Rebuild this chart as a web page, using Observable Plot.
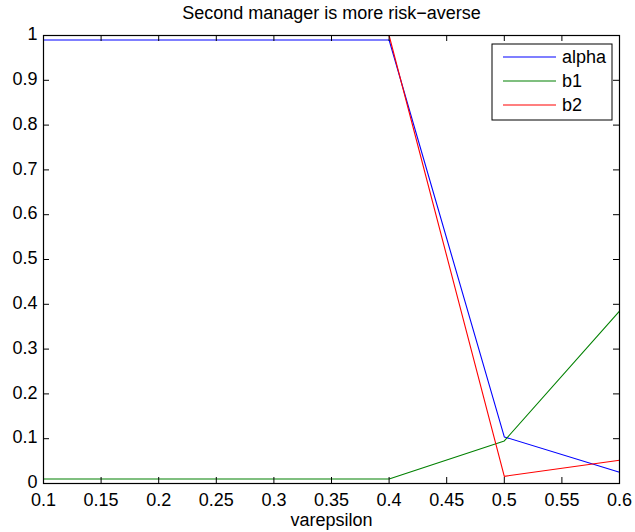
<!DOCTYPE html>
<html>
<head>
<meta charset="utf-8">
<script src="https://cdn.jsdelivr.net/npm/d3@7"></script>
<script src="https://cdn.jsdelivr.net/npm/@observablehq/plot@0.6"></script>
<style>
  body { margin: 0; background: #fff; }
  #chart { position: relative; width: 635px; height: 532px; }
  svg { display: block; }
</style>
</head>
<body>
<div id="chart"></div>
<script>
const title = "Second manager is more risk\u2212averse";
const xLabel = "varepsilon";
const eps = [0.1, 0.2, 0.3, 0.4, 0.5, 0.6];
const alpha = [0.99, 0.99, 0.99, 0.99, 0.104, 0.025];
const b1 = [0.01, 0.01, 0.01, 0.01, 0.095, 0.385];
const b2 = [1, 1, 1, 1, 0.016, 0.052];
const seriesNames = ["alpha", "b1", "b2"];
const seriesColors = ["#0000ff", "#008000", "#ff0000"];
const xTicks = [0.1, 0.15, 0.2, 0.25, 0.3, 0.35, 0.4, 0.45, 0.5, 0.55, 0.6];
const yTicks = [0, 0.1, 0.2, 0.3, 0.4, 0.5, 0.6, 0.7, 0.8, 0.9, 1];

const W = 635, H = 532;
const mL = 43, mR = 16, mT = 35, mB = 49;
const plotW = W - mL - mR, plotH = H - mT - mB;
const tickLen = 6;
const font = "'Liberation Sans', Arial, Helvetica, sans-serif";
const fs = 18;
const fmt = d => String(+d.toFixed(2));

const values = [alpha, b1, b2];
const rows = seriesNames.flatMap((s, k) => eps.map((x, i) => ({x, y: values[k][i], s})));

const plot = Plot.plot({
  width: W,
  height: H,
  marginLeft: mL,
  marginRight: mR,
  marginTop: mT,
  marginBottom: mB,
  style: {fontFamily: font, fontSize: fs + "px", color: "black", background: "white"},
  x: {domain: [0.1, 0.6]},
  y: {domain: [0, 1]},
  color: {domain: seriesNames, range: seriesColors},
  marks: [
    Plot.line(rows, {x: "x", y: "y", z: "s", stroke: "s", strokeWidth: 1.1}),
    Plot.ruleX(xTicks, {x: d => d, insetTop: plotH - tickLen, stroke: "black"}),
    Plot.ruleX(xTicks, {x: d => d, insetBottom: plotH - tickLen, stroke: "black"}),
    Plot.ruleY(yTicks, {y: d => d, insetRight: plotW - tickLen, stroke: "black"}),
    Plot.ruleY(yTicks, {y: d => d, insetLeft: plotW - tickLen, stroke: "black"}),
    Plot.frame({stroke: "black", strokeWidth: 1.2}),
    Plot.axisX({ticks: xTicks, tickFormat: fmt, tickSize: 0, tickPadding: 10, label: null, fontSize: fs}),
    Plot.axisY({ticks: yTicks, tickFormat: fmt, tickSize: 0, tickPadding: 6, dy: -1, label: null, fontSize: fs}),
    Plot.text([title], {text: d => d, frameAnchor: "top", lineAnchor: "middle", dy: -22, fontSize: fs}),
    Plot.text([xLabel], {text: d => d, frameAnchor: "bottom", lineAnchor: "middle", dy: 37, fontSize: fs})
  ]
});

document.getElementById("chart").appendChild(plot);

// Legend (MATLAB-style box, top-right inside axes)
const svg = d3.select(plot);
const lg = svg.append("g").attr("transform", `translate(${mL + plotW - 127},${mT + 9})`);
lg.append("rect").attr("x", 0).attr("y", 0).attr("width", 120).attr("height", 76)
  .attr("fill", "white").attr("stroke", "black").attr("stroke-width", 1);
seriesNames.forEach((name, i) => {
  const yy = 13 + i * 24;
  lg.append("line").attr("x1", 11).attr("x2", 64).attr("y1", yy).attr("y2", yy)
    .attr("stroke", seriesColors[i]).attr("stroke-width", 1.1);
  lg.append("text").attr("x", 70).attr("y", yy).attr("dy", "0.35em")
    .attr("text-anchor", "start")
    .attr("font-family", font).attr("font-size", fs).attr("fill", "black").text(name);
});
</script>
</body>
</html>
